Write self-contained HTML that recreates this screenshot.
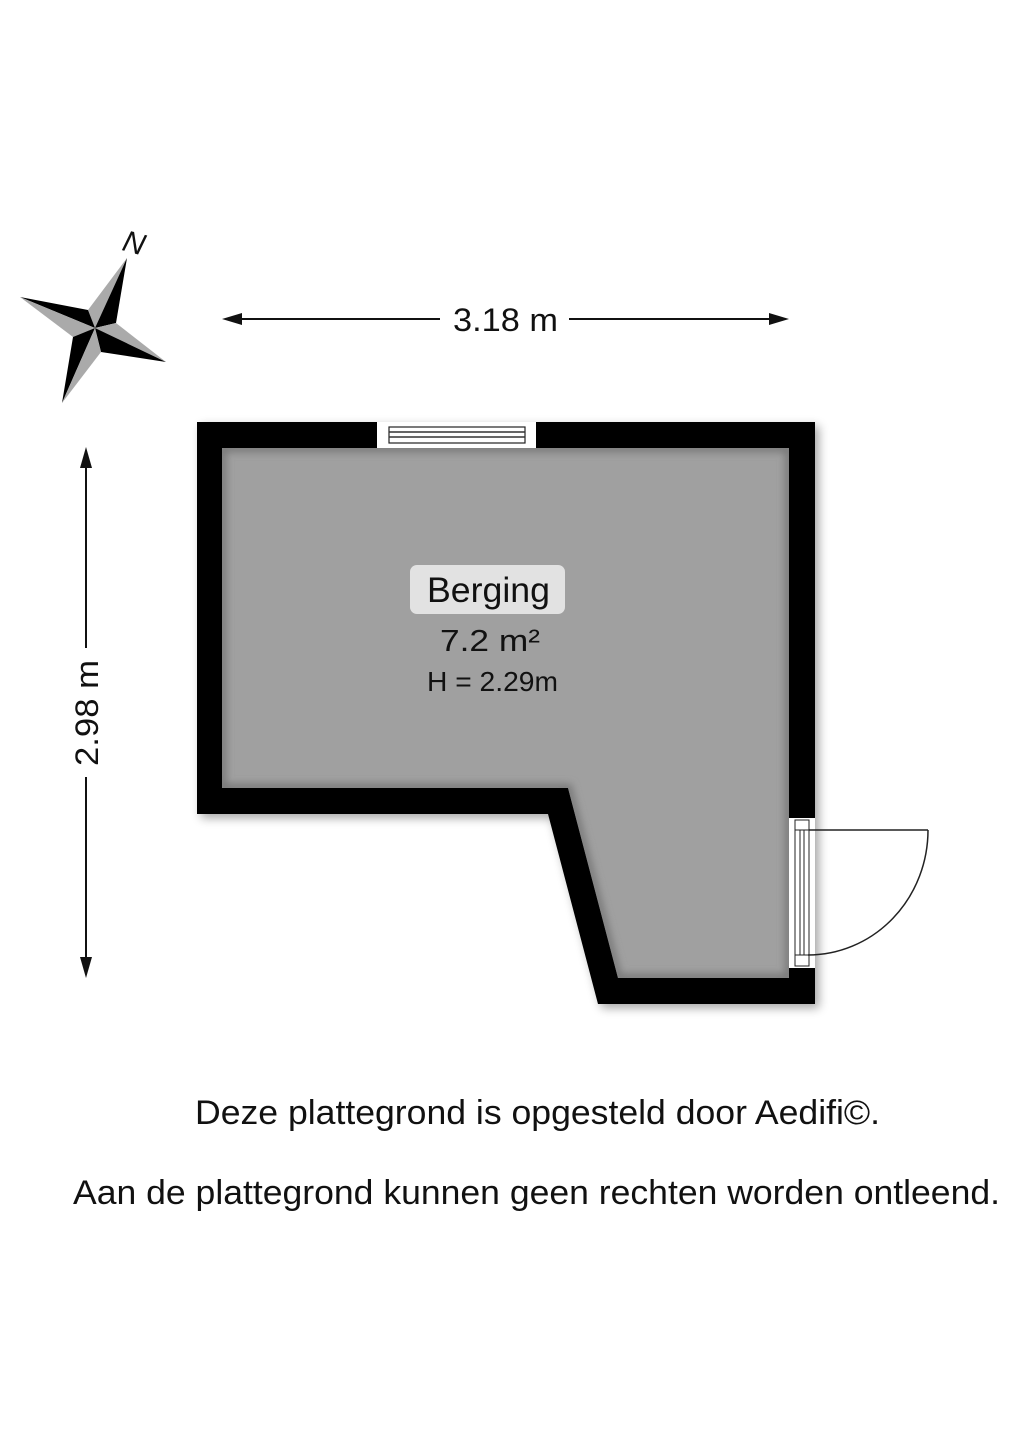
<!DOCTYPE html>
<html><head><meta charset="utf-8"><style>
html,body{margin:0;padding:0;background:#fff;}
svg{display:block;}
text{font-family:"Liberation Sans",sans-serif;fill:#111;}
</style></head><body>
<svg width="1018" height="1440" viewBox="0 0 1018 1440" xmlns="http://www.w3.org/2000/svg">
<defs>
<filter id="sh" x="-10%" y="-10%" width="130%" height="130%"><feGaussianBlur stdDeviation="5"/></filter>
<filter id="ish"><feGaussianBlur stdDeviation="4"/></filter>
<clipPath id="ic"><polygon points="222,448 789,448 789,978 618,978 568,788 222,788"/></clipPath>
</defs>
<!-- compass -->
<polygon points="127,258 88,310 95,328" fill="#aaa"/>
<polygon points="127,258 116,323 95,328" fill="#000"/>
<polygon points="20,297 88,310 95,328" fill="#000"/>
<polygon points="20,297 73,337 95,328" fill="#aaa"/>
<polygon points="166,362 116,323 95,328" fill="#aaa"/>
<polygon points="166,362 101,352 95,328" fill="#000"/>
<polygon points="62,403 73,337 95,328" fill="#000"/>
<polygon points="62,403 101,352 95,328" fill="#aaa"/>
<text x="134" y="253" font-size="30" font-style="italic" text-anchor="middle" transform="rotate(15 134 243)">N</text>
<!-- top dimension -->
<line x1="230" y1="319" x2="440" y2="319" stroke="#111" stroke-width="2"/>
<line x1="569" y1="319" x2="780" y2="319" stroke="#111" stroke-width="2"/>
<polygon points="222,319 242,313 242,325" fill="#111"/>
<polygon points="789,319 769,313 769,325" fill="#111"/>
<text x="453" y="331" font-size="32" textLength="105" lengthAdjust="spacingAndGlyphs">3.18 m</text>
<!-- left dimension -->
<line x1="86" y1="455" x2="86" y2="648" stroke="#111" stroke-width="2"/>
<line x1="86" y1="777" x2="86" y2="970" stroke="#111" stroke-width="2"/>
<polygon points="86,447 80,468 92,468" fill="#111"/>
<polygon points="86,978 80,957 92,957" fill="#111"/>
<text x="0" y="0" font-size="32" textLength="106" lengthAdjust="spacingAndGlyphs" transform="translate(98,766) rotate(-90)">2.98 m</text>
<!-- walls -->
<polygon points="197,422 815,422 815,1004 598,1004 548,814 197,814" fill="#000" opacity="0.35" filter="url(#sh)" transform="translate(4,4)"/>
<polygon points="197,422 815,422 815,1004 598,1004 548,814 197,814" fill="#000"/>
<polygon points="222,448 789,448 789,978 618,978 568,788 222,788" fill="#a0a0a0"/>
<g clip-path="url(#ic)">
<polygon points="222,448 789,448 789,978 618,978 568,788 222,788" fill="none" stroke="#777" stroke-width="8" filter="url(#ish)"/>
</g>
<!-- window -->
<rect x="377" y="422" width="159" height="26" fill="#fff"/>
<rect x="389" y="427" width="136" height="16" fill="#fff" stroke="#222" stroke-width="1.2"/>
<line x1="389" y1="432" x2="525" y2="432" stroke="#333" stroke-width="1.5"/>
<line x1="389" y1="437" x2="525" y2="437" stroke="#333" stroke-width="1.5"/>
<!-- door -->
<rect x="789" y="818" width="26" height="150" fill="#fff"/>
<rect x="795" y="820" width="14" height="146" fill="#fff" stroke="#222" stroke-width="1"/>
<line x1="795" y1="830" x2="809" y2="830" stroke="#222" stroke-width="1"/>
<line x1="795" y1="955" x2="809" y2="955" stroke="#222" stroke-width="1"/>
<line x1="800" y1="830" x2="800" y2="955" stroke="#222" stroke-width="1"/>
<line x1="804" y1="830" x2="804" y2="955" stroke="#222" stroke-width="1"/>
<line x1="809" y1="830" x2="928" y2="830" stroke="#222" stroke-width="1.5"/>
<path d="M928,830 A120,125 0 0 1 808,955" fill="none" stroke="#222" stroke-width="1.5"/>
<!-- label -->
<rect x="410" y="565" width="155" height="49" rx="7" fill="#e2e2e2"/>
<text x="427" y="602" font-size="35" textLength="123" lengthAdjust="spacingAndGlyphs">Berging</text>
<text x="440" y="651" font-size="31" textLength="100" lengthAdjust="spacingAndGlyphs">7.2  m²</text>
<text x="427" y="691" font-size="28" textLength="131" lengthAdjust="spacingAndGlyphs">H = 2.29m</text>
<!-- footer -->
<text x="195" y="1124" font-size="34" textLength="685" lengthAdjust="spacingAndGlyphs">Deze plattegrond is opgesteld door Aedifi©.</text>
<text x="73" y="1204" font-size="34" textLength="927" lengthAdjust="spacingAndGlyphs">Aan de plattegrond kunnen geen rechten worden ontleend.</text>
</svg>
</body></html>
